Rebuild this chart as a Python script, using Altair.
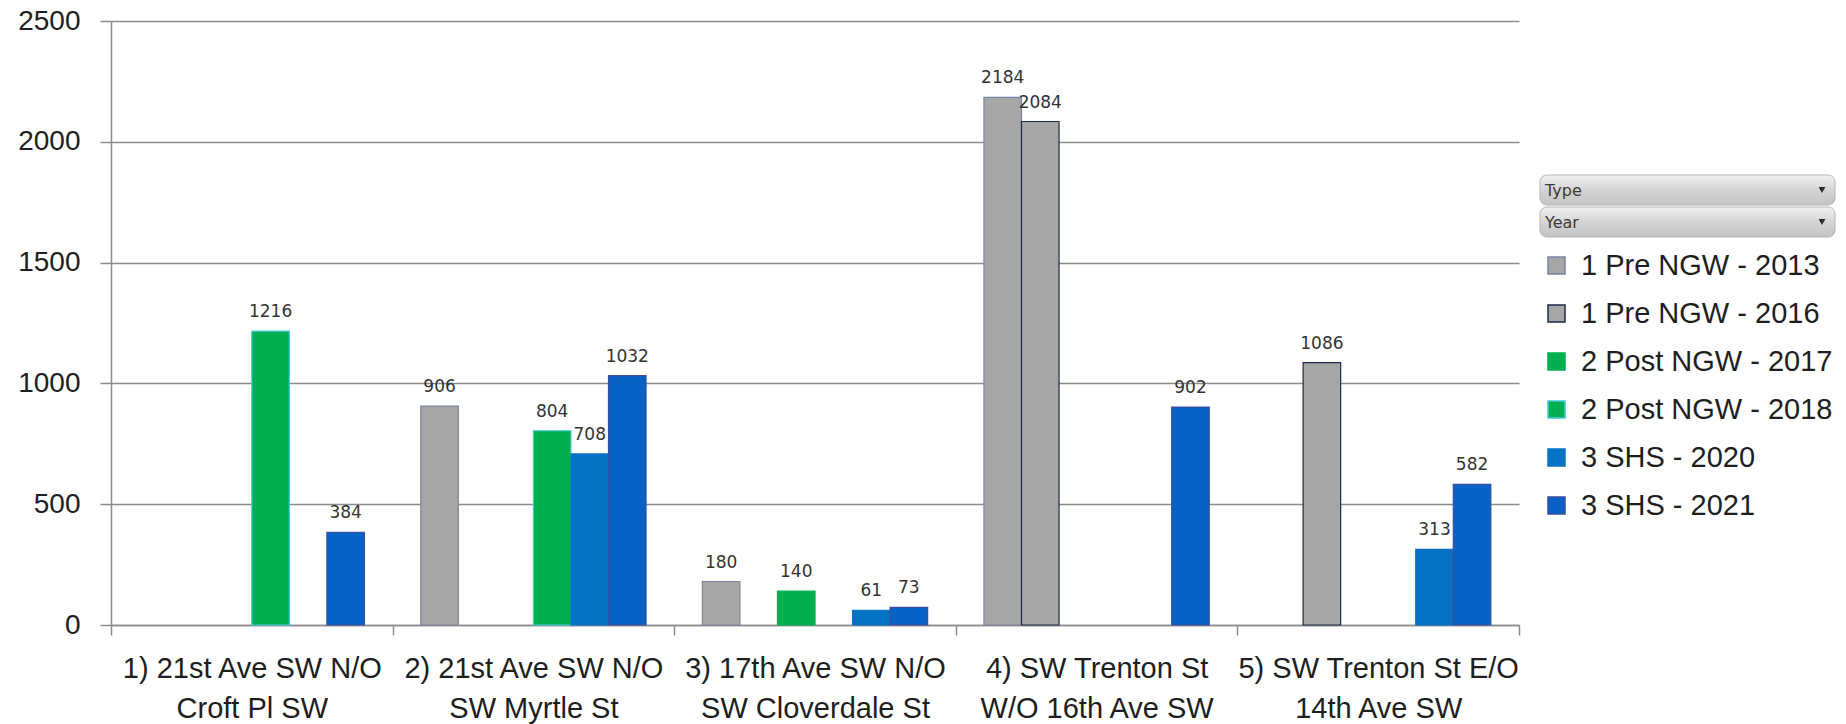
import altair as alt
import pandas as pd

# Count locations (two-line axis labels, split on "|")
LOCATIONS = [
    "1) 21st Ave SW N/O|Croft Pl SW",
    "2) 21st Ave SW N/O|SW Myrtle St",
    "3) 17th Ave SW N/O|SW Cloverdale St",
    "4) SW Trenton St|W/O 16th Ave SW",
    "5) SW Trenton St E/O|14th Ave SW",
]

# Series: Type - Year
SERIES = [
    "1 Pre NGW - 2013",
    "1 Pre NGW - 2016",
    "2 Post NGW - 2017",
    "2 Post NGW - 2018",
    "3 SHS - 2020",
    "3 SHS - 2021",
]

# Counts per location (None = no count taken)
PRE_2013 = [None, 906, 180, 2184, None]
PRE_2016 = [None, None, None, 2084, 1086]
POST_2017 = [None, None, 140, None, None]
POST_2018 = [1216, 804, None, None, None]
SHS_2020 = [None, 708, 61, None, 313]
SHS_2021 = [384, 1032, 73, 902, 582]

FILLS = ["#A6A6A6", "#A6A6A6", "#00B050", "#00B050", "#0572C4", "#0861C4"]
STROKES = ["#7B82A3", "#1F2A48", "#00B050", "#45C8DC", "#0572C4", "#3A4E9E"]

Y_TICKS = [0, 500, 1000, 1500, 2000, 2500]

rows = []
for name, vals in zip(SERIES, [PRE_2013, PRE_2016, POST_2017, POST_2018, SHS_2020, SHS_2021]):
    for loc, v in zip(LOCATIONS, vals):
        if v is not None:
            rows.append({"location": loc, "series": name, "count": v})
df = pd.DataFrame(rows)

W, H = 1408, 604
GRID = "#8C8C8C"

x_enc = alt.X(
    "location:N",
    sort=LOCATIONS,
    scale=alt.Scale(domain=LOCATIONS, paddingInner=0, paddingOuter=0),
    axis=alt.Axis(
        title=None,
        labelAngle=0,
        labelExpr="split(datum.label, '|')",
        labelFont="Liberation Sans",
        labelFontSize=29,
        labelColor="#1E1E1E",
        labelLineHeight=40,
        labelPadding=19,
        labelLimit=0,
        tickBand="extent",
        tickSize=10,
        tickColor=GRID,
        tickWidth=1.5,
        domainColor=GRID,
        domainWidth=1.5,
        grid=False,
    ),
)
xo_enc = alt.XOffset(
    "series:N",
    sort=SERIES,
    scale=alt.Scale(domain=SERIES, paddingInner=0, paddingOuter=0.75),
)
y_enc = alt.Y(
    "count:Q",
    scale=alt.Scale(domain=[0, 2500], nice=False),
    axis=alt.Axis(
        title=None,
        values=Y_TICKS,
        format="d",
        grid=True,
        gridColor=GRID,
        gridWidth=1.5,
        domainColor=GRID,
        domainWidth=1.5,
        tickColor=GRID,
        tickWidth=1.5,
        tickSize=11,
        labelFont="Liberation Sans",
        labelFontSize=28,
        labelColor="#1E1E1E",
        labelPadding=20,
    ),
)

legend = alt.Legend(
    title=None,
    orient="none",
    legendX=1431,
    legendY=230,
    symbolType="square",
    symbolSize=289,
    symbolStrokeWidth=1.5,
    labelFont="Liberation Sans",
    labelFontSize=29,
    labelColor="#1E1E1E",
    labelOffset=10,
    labelLimit=0,
    rowPadding=18,
)

bars = (
    alt.Chart(df)
    .mark_bar(strokeWidth=1.2)
    .encode(
        x=x_enc,
        xOffset=xo_enc,
        y=y_enc,
        color=alt.Color("series:N", scale=alt.Scale(domain=SERIES, range=FILLS), legend=legend),
        stroke=alt.Stroke("series:N", scale=alt.Scale(domain=SERIES, range=STROKES), legend=legend),
    )
)

labels = (
    alt.Chart(df)
    .mark_text(font="DejaVu Sans", fontSize=17, color="#333333", baseline="alphabetic", dy=-14)
    .encode(x=x_enc, xOffset=xo_enc, y=y_enc, text=alt.Text("count:Q"))
)

# Field buttons above the legend
BUTTONS = ["Type", "Year"]
button_grad = alt.LinearGradient(
    gradient="linear",
    stops=[
        alt.GradientStop(color="#F2F2F2", offset=0),
        alt.GradientStop(color="#D4D4D4", offset=0.5),
        alt.GradientStop(color="#C4C4C4", offset=1),
    ],
    x1=0, x2=0, y1=0, y2=1,
)
button_layers = []
for i, name in enumerate(BUTTONS):
    top = 154 + i * 32
    bdf = pd.DataFrame({"field": [name]})
    box = alt.Chart(bdf).mark_rect(
        fill=button_grad, stroke="#B5B5B5", strokeWidth=1, cornerRadius=7
    ).encode(
        x=alt.value(1429), x2=alt.value(1724), y=alt.value(top), y2=alt.value(top + 30)
    )
    txt = alt.Chart(bdf).mark_text(
        font="DejaVu Sans", fontSize=16, color="#3A3A3A", align="left", baseline="middle"
    ).encode(x=alt.value(1434), y=alt.value(top + 16), text="field:N")
    arrow = alt.Chart(bdf).mark_point(
        shape="triangle-down", size=45, filled=True, color="#2A2A2A", opacity=1
    ).encode(x=alt.value(1711), y=alt.value(top + 15))
    button_layers += [box, txt, arrow]

chart = (
    alt.layer(bars, labels, *button_layers)
    .properties(
        width=W,
        height=H,
        autosize=alt.AutoSizeParams(type="none"),
        padding={"left": 111, "top": 21, "right": 1846 - 111 - W, "bottom": 724 - 21 - H},
        background="white",
    )
    .configure_view(stroke=None)
)

chart.save("out.html", embed_options={"renderer": "svg", "actions": False})
